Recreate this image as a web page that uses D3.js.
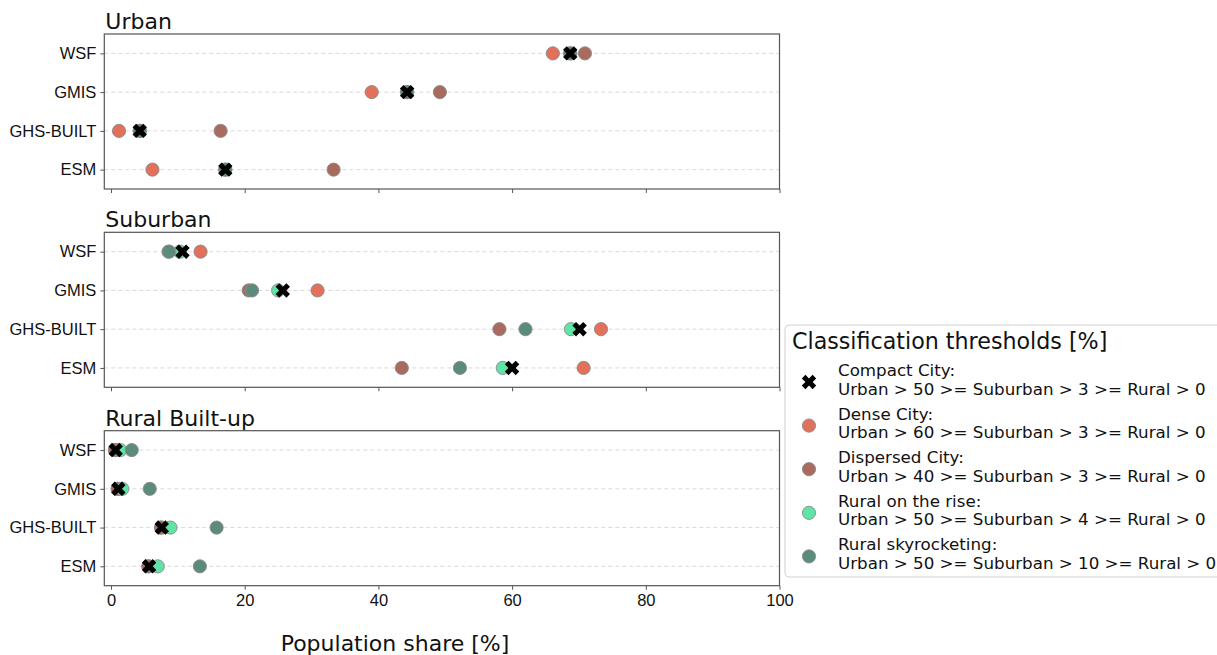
<!DOCTYPE html>
<html>
<head>
<meta charset="utf-8">
<script src="https://cdn.jsdelivr.net/npm/d3@7"></script>
<style>
  body { margin: 0; background: #fff; }
  svg { font-family: "DejaVu Sans", sans-serif; }
  .grid line { stroke: #cfcfcf; stroke-width: 0.8px; stroke-dasharray: 4,3; }
  .frame { fill: none; stroke: #555; stroke-width: 1.2px; }
  .axis path { display: none; }
  .axis line { stroke: #555; }
  .axis text { fill: #111; font-size: 16.5px; }
</style>
</head>
<body>
<script>
// data sets on the y axis (top to bottom) and panel titles
var datasets = ["WSF", "GMIS", "GHS-BUILT", "ESM"];
var panels = ["Urban", "Suburban", "Rural Built-up"];
var x_ticks = [0, 20, 40, 60, 80, 100];

var class_names = ["Compact City", "Dense City", "Dispersed City", "Rural on the rise", "Rural skyrocketing"];
var class_rules = [
  "Urban > 50 >= Suburban > 3 >= Rural > 0",
  "Urban > 60 >= Suburban > 3 >= Rural > 0",
  "Urban > 40 >= Suburban > 3 >= Rural > 0",
  "Urban > 50 >= Suburban > 4 >= Rural > 0",
  "Urban > 50 >= Suburban > 10 >= Rural > 0"
];
var class_colors = ["#000000", "#e2705a", "#a96a60", "#5fe3a6", "#5b8c79"];

// population share [%] per data set (WSF, GMIS, GHS-BUILT, ESM)
var urban_compact    = [68.7, 44.3, 4.3, 17.1];
var urban_dense      = [66.1, 39.0, 1.2, 6.2];
var urban_dispersed  = [70.9, 49.2, 16.4, 33.3];
var urban_rise       = [68.7, 44.3, 4.3, 17.1];
var urban_sky        = [68.7, 44.3, 4.3, 17.1];

var suburban_compact   = [10.7, 25.7, 70.1, 60.0];
var suburban_dense     = [13.4, 30.9, 73.3, 70.7];
var suburban_dispersed = [8.6, 20.6, 58.1, 43.5];
var suburban_rise      = [10.3, 25.0, 68.8, 58.6];
var suburban_sky       = [8.7, 21.1, 62.0, 52.2];

var rural_compact   = [0.7, 1.1, 7.6, 5.7];
var rural_dense     = [0.6, 1.0, 7.5, 5.6];
var rural_dispersed = [0.6, 1.0, 7.5, 5.6];
var rural_rise      = [1.4, 1.7, 8.9, 7.0];
var rural_sky       = [3.1, 5.8, 15.8, 13.3];

var panel_values = [
  [urban_compact, urban_dense, urban_dispersed, urban_rise, urban_sky],
  [suburban_compact, suburban_dense, suburban_dispersed, suburban_rise, suburban_sky],
  [rural_compact, rural_dense, rural_dispersed, rural_rise, rural_sky]
];

// drawing order: the compact city cross goes on top
var draw_order = [1, 2, 3, 4, 0];

var width = 1217, height = 655;
var left = 104.3, right = 779.5, panel_h = 155;
var panel_tops = [34, 232.3, 430.7];

var svg = d3.select("body").append("svg")
    .attr("width", width)
    .attr("height", height);

var x_scale = d3.scaleLinear().domain([-1, 100]).range([left, right]);
var y_scale = d3.scalePoint().domain(datasets).range([0, panel_h]).padding(0.5);

var cross = d3.symbol().type(d3.symbolCross).size(130);

function marker(g, cls, color) {
  if (cls === 0) {
    g.append("path")
      .attr("d", cross)
      .attr("transform", function(d) { return "translate(" + d.x + "," + d.y + ") rotate(45)"; })
      .attr("fill", color);
  } else {
    g.append("circle")
      .attr("cx", function(d) { return d.x; })
      .attr("cy", function(d) { return d.y; })
      .attr("r", 6.6)
      .attr("fill", color)
      .attr("stroke", "#8a8a8a")
      .attr("stroke-width", 0.9);
  }
}

panels.forEach(function(title, p) {
  var top = panel_tops[p];
  var g = svg.append("g").attr("transform", "translate(0," + top + ")");

  g.append("g").attr("class", "grid")
    .selectAll("line").data(datasets).enter().append("line")
    .attr("x1", left).attr("x2", right)
    .attr("y1", function(d) { return y_scale(d); })
    .attr("y2", function(d) { return y_scale(d); });

  var y_axis = d3.axisLeft(y_scale).tickSize(4).tickPadding(4);
  g.append("g").attr("class", "axis")
    .attr("transform", "translate(" + left + ",0)")
    .call(y_axis);

  var x_axis = d3.axisBottom(x_scale).tickValues(x_ticks).tickSize(4).tickPadding(5);
  if (p < 2) x_axis.tickFormat("");
  g.append("g").attr("class", "axis")
    .attr("transform", "translate(0," + panel_h + ")")
    .call(x_axis);

  draw_order.forEach(function(c) {
    var pts = panel_values[p][c].map(function(v, i) {
      return { x: x_scale(v), y: y_scale(datasets[i]) };
    });
    var mg = g.append("g").selectAll("g").data(pts).enter().append("g");
    marker(mg, c, class_colors[c]);
  });

  g.append("rect").attr("class", "frame")
    .attr("x", left).attr("y", 0)
    .attr("width", right - left).attr("height", panel_h);

  g.append("text")
    .attr("x", left + 1).attr("y", -5)
    .attr("font-size", "22px")
    .attr("fill", "#111")
    .text(title);
});

svg.append("text")
  .attr("x", 395).attr("y", 651)
  .attr("text-anchor", "middle")
  .attr("font-size", "22px")
  .attr("fill", "#111")
  .text("Population share [%]");

// legend
var legend = svg.append("g").attr("transform", "translate(785,325)");
legend.append("rect")
  .attr("width", 445).attr("height", 252)
  .attr("rx", 4)
  .attr("fill", "#fff")
  .attr("stroke", "#d0d0d0");
legend.append("text")
  .attr("x", 7).attr("y", 24)
  .attr("font-size", "22.2px")
  .attr("fill", "#111")
  .text("Classification thresholds [%]");

class_names.forEach(function(name, c) {
  var y0 = 51 + c * 43.6;
  var row = legend.append("g");
  var mg = row.selectAll("g").data([{ x: 24, y: y0 + 6 }]).enter().append("g");
  marker(mg, c, class_colors[c]);
  row.append("text")
    .attr("x", 53).attr("y", y0)
    .attr("font-size", "16.7px").attr("fill", "#111")
    .text(name + ":");
  row.append("text")
    .attr("x", 53).attr("y", y0 + 18.5)
    .attr("font-size", "16.7px").attr("fill", "#111")
    .text(class_rules[c]);
});
</script>
</body>
</html>
